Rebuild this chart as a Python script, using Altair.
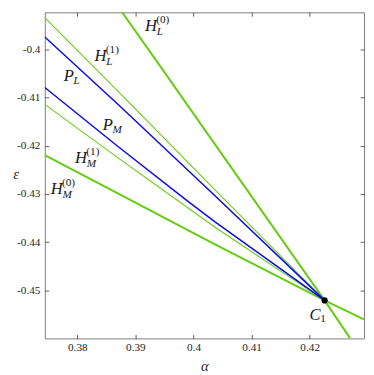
import altair as alt
import pandas as pd

# ---- data (alpha, epsilon) ----
HL0_alpha = [0.38677, 0.39390, 0.40370, 0.42257, 0.42694]
HL0_eps = [-0.39077, -0.40289, -0.41972, -0.45204, -0.45986]
HL1_alpha = [0.37440, 0.38689, 0.40370, 0.42257]
HL1_eps = [-0.39345, -0.40861, -0.42915, -0.45204]
PL_alpha = [0.37440, 0.38689, 0.40370, 0.42257]
PL_eps = [-0.39749, -0.41131, -0.43036, -0.45204]
PM_alpha = [0.37440, 0.38689, 0.39866, 0.40370, 0.42257]
PM_eps = [-0.40794, -0.42006, -0.43117, -0.43576, -0.45204]
HM1_alpha = [0.37440, 0.38689, 0.40370, 0.42257]
HM1_eps = [-0.41143, -0.42242, -0.43689, -0.45204]
HM0_alpha = [0.37440, 0.38689, 0.40370, 0.42257, 0.42933]
HM0_eps = [-0.42194, -0.42982, -0.44046, -0.45204, -0.45596]
C1_alpha = [0.42257]
C1_eps = [-0.45204]

label_base = ["H", "H", "P", "P", "H", "H", "C"]
label_sub = ["L", "L", "L", "M", "M", "M", "1"]
label_sup = ["(0)", "(1)", "", "", "(1)", "(0)", ""]
label_alpha = [0.39165, 0.38297, 0.37765, 0.38437, 0.37961, 0.37541, 0.41995]
label_eps = [-0.39616, -0.40242, -0.40659, -0.41669, -0.42356, -0.43002, -0.45608]

x_ticks = [0.38, 0.39, 0.40, 0.41, 0.42]
y_ticks = [-0.45, -0.44, -0.43, -0.42, -0.41, -0.40]
x_domain = [0.37440, 0.42936]
y_domain = [-0.45992, -0.39238]

GREEN = "#66cc11"
BLUE = "#0a0aee"
SERIF = "Liberation Serif"


def line_df(name, a, e):
    return pd.DataFrame({"line": name, "alpha": a, "eps": e, "k": range(len(a))})


thick_df = pd.concat([line_df("HL0", HL0_alpha, HL0_eps), line_df("HM0", HM0_alpha, HM0_eps)])
thin_df = pd.concat([line_df("HL1", HL1_alpha, HL1_eps), line_df("HM1", HM1_alpha, HM1_eps)])
blue_df = pd.concat([line_df("PL", PL_alpha, PL_eps), line_df("PM", PM_alpha, PM_eps)])
pt_df = pd.DataFrame({"alpha": C1_alpha, "eps": C1_eps})
lab_df = pd.DataFrame({"base": label_base, "sub": label_sub, "sup": label_sup,
                       "alpha": label_alpha, "eps": label_eps})

xs = alt.Scale(domain=x_domain, nice=False, zero=False)
ys = alt.Scale(domain=y_domain, nice=False, zero=False)

common_axis = dict(grid=False, domain=False, tickSize=4, offset=-4, tickColor="#333333",
                   tickWidth=0.8, labelFont=SERIF, labelFontSize=11.5, labelColor="#262626")

x_bottom = alt.Axis(orient="bottom", values=x_ticks, format=".2~f", title="α",
                    labelPadding=3, titleFont=SERIF, titleFontSize=15, titleFontWeight="normal",
                    titleFontStyle="italic", titleColor="#262626", titlePadding=6, **common_axis)
y_left = alt.Axis(orient="left", values=y_ticks, labelExpr="'-' + format(-datum.value, '.2~f')",
                  title="ε", labelPadding=5, titleFont=SERIF, titleFontSize=15,
                  titleFontWeight="normal", titleFontStyle="italic", titleColor="#262626",
                  titleAngle=0, titleX=-34, titleY=170, titleAlign="center",
                  titleBaseline="alphabetic", **common_axis)
x_top = alt.Axis(orient="top", values=x_ticks, labels=False, title=None, **common_axis)
y_right = alt.Axis(orient="right", values=y_ticks, labels=False, title=None, **common_axis)


def enc_line(df, color, width, xa=None, ya=None):
    return alt.Chart(df).mark_line(color=color, strokeWidth=width, clip=True).encode(
        x=alt.X("alpha:Q", scale=xs, axis=xa),
        y=alt.Y("eps:Q", scale=ys, axis=ya),
        detail="line:N",
        order="k:Q",
    )


thick = enc_line(thick_df, GREEN, 2.0, x_bottom, y_left)
thin = enc_line(thin_df, GREEN, 1.1, x_top, y_right)
blue = enc_line(blue_df, BLUE, 1.5)

point = alt.Chart(pt_df).mark_point(filled=True, color="black", size=40, opacity=1).encode(
    x=alt.X("alpha:Q", scale=xs, axis=None),
    y=alt.Y("eps:Q", scale=ys, axis=None),
)


def text_layer(df, field, size, style, dx, dy):
    return alt.Chart(df).mark_text(font=SERIF, fontSize=size, fontStyle=style, align="left",
                                   baseline="alphabetic", dx=dx, dy=dy, color="#1a1a1a").encode(
        x=alt.X("alpha:Q", scale=xs, axis=None),
        y=alt.Y("eps:Q", scale=ys, axis=None),
        text=f"{field}:N",
    )


base_txt = text_layer(lab_df, "base", 17, "italic", 0, 0)
sub_H = text_layer(lab_df, "sub", 11.5, "italic", 12, 4).transform_filter("datum.base == 'H'")
sub_P = text_layer(lab_df, "sub", 11.5, "italic", 10, 3.5).transform_filter("datum.base == 'P'")
sub_C = text_layer(lab_df, "sub", 11.5, "normal", 11, 2.5).transform_filter("datum.base == 'C'")
sup_H = text_layer(lab_df, "sup", 11.5, "normal", 11.5, -8).transform_filter("datum.base == 'H'")

chart = alt.layer(thick, thin, blue, point, base_txt, sub_H, sub_P, sub_C, sup_H).resolve_axis(
    x="independent", y="independent"
).properties(
    width=327, height=334,
    autosize=alt.AutoSizeParams(type="none"),
    padding={"left": 37.7, "top": 0, "right": 2, "bottom": 33},
).configure_view(stroke="#7a7a7a", strokeWidth=1)

chart.save("out.html", embed_options={"renderer": "svg", "actions": False})
